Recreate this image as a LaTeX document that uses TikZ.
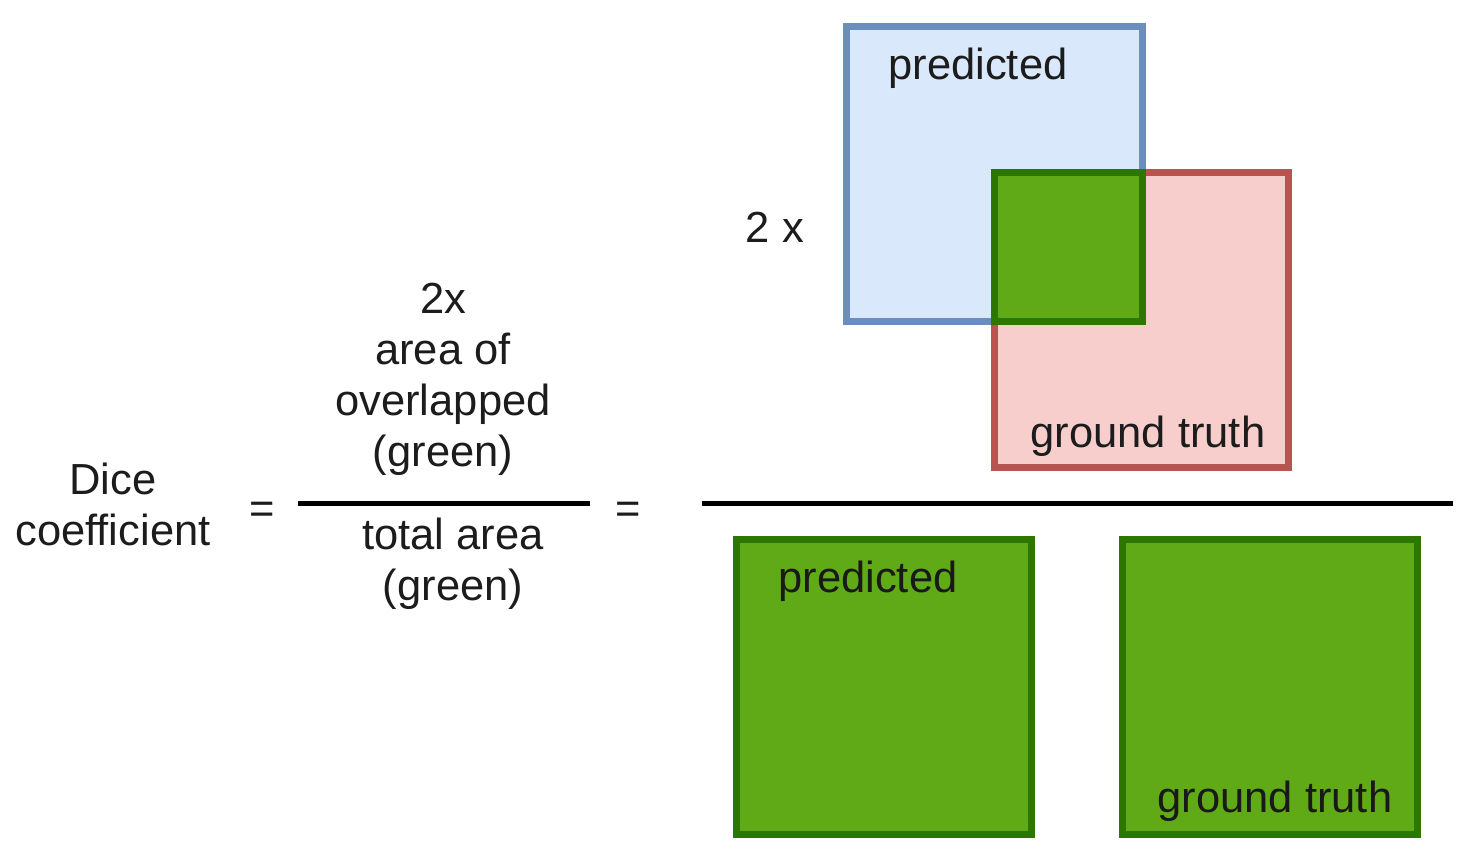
\documentclass[tikz,border=0pt]{standalone}
\usepackage{fontspec}
\setmainfont{Liberation Sans}
\definecolor{bluefill}{HTML}{DAE8FC}
\definecolor{bluestroke}{HTML}{6C8EBF}
\definecolor{redfill}{HTML}{F8CECC}
\definecolor{redstroke}{HTML}{B85450}
\definecolor{greenfill}{HTML}{60A917}
\definecolor{greenstroke}{HTML}{2D7600}
\definecolor{ink}{HTML}{1C1C1C}
\tikzset{
  lbl/.style={inner sep=0pt, anchor=base, text=ink, font=\fontsize{43.5}{51}\selectfont},
  boxline/.style={line width=7pt},
  bluebox/.style={boxline, draw=bluestroke, fill=bluefill},
  redbox/.style={boxline, draw=redstroke, fill=redfill},
  greenbox/.style={boxline, draw=greenstroke, fill=greenfill},
  fracline/.style={line width=5pt, draw=black}
}
\begin{document}
\begin{tikzpicture}[x=1pt,y=-1pt]
\useasboundingbox[fill=white] (0,0) rectangle (1470,864);
% overlapping squares
\draw[bluebox] (846.5,26.5) rectangle (1142.5,321.5);
\draw[redbox] (994.5,172.5) rectangle (1288.5,467.5);
\draw[greenbox] (994.5,172.5) rectangle (1142.5,321.5);
\node[lbl] (predtop) at (978,80) {predicted};
\node[lbl] (gttop) at (1148,447) {ground truth};
\node[lbl] (twox) at (775,242) {2 x};
% main fraction line
\coordinate (mainL) at (702,503.5);
\coordinate (mainR) at (1453,503.5);
\draw[fracline] (mainL) -- (mainR);
% bottom squares
\draw[greenbox] (736.5,539.5) rectangle (1031.5,834.5);
\draw[greenbox] (1122.5,539.5) rectangle (1417.5,834.5);
\node[lbl, text=black!90] (predbot) at (868,592) {predicted};
\node[lbl, text=black!90] (gtbot) at (1275,812) {ground truth};
% left formula
\node[lbl] (dice1) at (113,494) {Dice};
\node[lbl] (dice2) at (113,545) {coefficient};
\node[lbl] (eq1) at (262,523) {=};
\node[lbl] (num1) at (443,313) {2x};
\node[lbl] (num2) at (443,364) {area of};
\node[lbl] (num3) at (443,415) {overlapped};
\node[lbl] (num4) at (443,466) {(green)};
\coordinate (smallL) at (298,503.5);
\coordinate (smallR) at (590,503.5);
\draw[fracline] (smallL) -- (smallR);
\node[lbl] (den1) at (453,549) {total area};
\node[lbl] (den2) at (453,600) {(green)};
\node[lbl] (eq2) at (628,523) {=};
\end{tikzpicture}
\end{document}
